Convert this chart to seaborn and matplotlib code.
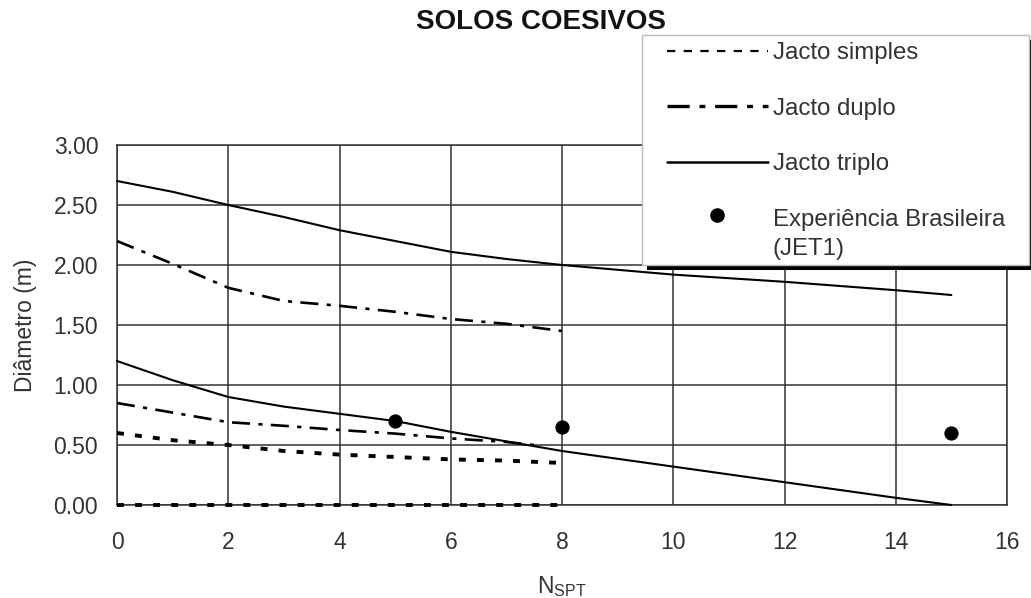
import numpy as np
import pandas as pd
import matplotlib
matplotlib.use("Agg")
import matplotlib.pyplot as plt
import matplotlib.patheffects as pe
from matplotlib.lines import Line2D
from matplotlib.patches import Rectangle
from matplotlib.legend_handler import HandlerLine2D
import seaborn as sns

# ---------------- data ----------------
triplo_sup_x = [0, 1, 2, 3, 4, 5, 6, 7, 8, 10, 12, 14, 15]
triplo_sup_y = [2.70, 2.61, 2.50, 2.40, 2.29, 2.20, 2.11, 2.05, 2.00, 1.92, 1.86, 1.79, 1.75]
triplo_inf_x = [0, 1, 2, 3, 4, 5, 6, 7, 8, 10, 12, 14, 15]
triplo_inf_y = [1.20, 1.04, 0.90, 0.82, 0.76, 0.70, 0.61, 0.53, 0.45, 0.32, 0.19, 0.06, 0.00]
duplo_sup_x = [0, 1, 2, 3, 4, 5, 6, 7, 8]
duplo_sup_y = [2.20, 2.01, 1.81, 1.70, 1.66, 1.61, 1.55, 1.51, 1.45]
duplo_inf_x = [0, 1, 2, 3, 4, 5, 6, 7, 7.5]
duplo_inf_y = [0.85, 0.77, 0.69, 0.66, 0.625, 0.595, 0.555, 0.525, 0.50]
simples_sup_x = [0, 1, 2, 3, 4, 5, 6, 7, 8]
simples_sup_y = [0.60, 0.54, 0.50, 0.45, 0.42, 0.40, 0.38, 0.37, 0.35]
simples_inf_x = [0, 8]
simples_inf_y = [0.00, 0.00]
jet1_x = [5, 8, 15]
jet1_y = [0.70, 0.65, 0.60]

x_ticks = [0, 2, 4, 6, 8, 10, 12, 14, 16]
y_ticks = [0.0, 0.5, 1.0, 1.5, 2.0, 2.5, 3.0]
legend_labels = ["Jacto simples", "Jacto duplo", "Jacto triplo",
                 "Experiência Brasileira\n(JET1)"]

# ---------------- style ----------------
sns.set_style("white")
plt.rcParams['font.family'] = ['Liberation Sans', 'DejaVu Sans']
plt.rcParams['lines.scale_dashes'] = False
plt.rcParams['mathtext.fontset'] = 'custom'
plt.rcParams['mathtext.rm'] = 'Liberation Sans'

W, H = 1031, 598
fig = plt.figure(figsize=(W / 100, H / 100), dpi=100)
ax = fig.add_axes([117 / W, 1 - 505 / H, (1007 - 117) / W, (505 - 145) / H])

simples_ls = (0, (5, 8))
duplo_ls = (0, (13, 6, 3, 6))

for xs, ys in [(simples_sup_x, simples_sup_y), (simples_inf_x, simples_inf_y)]:
    sns.lineplot(x=xs, y=ys, ax=ax, color='black', lw=2.8, linestyle=simples_ls,
                 estimator=None, errorbar=None, zorder=3, clip_on=False)
for xs, ys in [(duplo_sup_x, duplo_sup_y), (duplo_inf_x, duplo_inf_y)]:
    sns.lineplot(x=xs, y=ys, ax=ax, color='black', lw=1.9, linestyle=duplo_ls,
                 estimator=None, errorbar=None, zorder=3, clip_on=False)
for xs, ys in [(triplo_sup_x, triplo_sup_y), (triplo_inf_x, triplo_inf_y)]:
    sns.lineplot(x=xs, y=ys, ax=ax, color='black', lw=1.5, linestyle='-',
                 estimator=None, errorbar=None, zorder=3, clip_on=False)
sns.scatterplot(x=jet1_x, y=jet1_y, ax=ax, color='black', s=90, edgecolor='black',
                zorder=4)

ax.set_xlim(0, 16)
ax.set_ylim(0, 3)
ax.set_xticks(x_ticks)
ax.set_yticks(y_ticks)
ax.set_yticklabels([f"{v:.2f}" for v in y_ticks])
ax.set_axisbelow(True)
ax.grid(True, color='#333333', lw=1.1)
for s in ax.spines.values():
    s.set_color('#333333')
    s.set_linewidth(1.1)
    s.set_zorder(1)
ax.tick_params(axis='y', direction='out', length=6.5, width=1.1, color='#333333',
               labelsize=16.5, labelcolor='#333333', pad=7)
ax.tick_params(axis='x', direction='out', length=6, width=1.1, color='#333333',
               labelsize=16.5, labelcolor='#333333', pad=13)
ax.set_xlabel(r"N$_\mathregular{SPT}$", fontsize=16.5, color='#333333', labelpad=14)
ax.set_ylabel("Diâmetro (m)", fontsize=16.5, color='#333333', labelpad=12)

fig.text(541 / W, 1 - 22 / H, "SOLOS COESIVOS", ha='center', va='center',
         fontsize=20, fontweight='bold', color='#111111')

# legend frame with shadow
frame = Rectangle((642 / W, 1 - 265 / H), (1029 - 642) / W, (265 - 35) / H,
                  transform=fig.transFigure, facecolor='white', edgecolor='#bbbbbb',
                  lw=1.0, zorder=10)
frame.set_path_effects([pe.SimplePatchShadow(offset=(3.6, -3.6), shadow_rgbFace='black',
                                             alpha=1.0, rho=1.0), pe.Normal()])
fig.add_artist(frame)


class UpHandler(HandlerLine2D):
    def create_artists(self, legend, orig_handle, xdescent, ydescent, width, height,
                       fontsize, trans):
        shift = 0.8 * fontsize
        return super().create_artists(legend, orig_handle, xdescent, ydescent - 2 * shift,
                                      width, height, fontsize, trans)


h1 = Line2D([], [], color='black', lw=1.6, linestyle=(0, (6, 6)))
h2 = Line2D([], [], color='black', lw=2.4, linestyle=(0, (16, 7, 4.3, 7)))
h3 = Line2D([], [], color='black', lw=1.8, linestyle='-')
h4 = Line2D([], [], color='black', lw=0, marker='o', markersize=9.5)
leg = fig.legend([h1, h2, h3, h4], legend_labels, loc='upper left',
                 bbox_to_anchor=(667 / W, 1 - 42 / H), bbox_transform=fig.transFigure,
                 frameon=False, fontsize=17.3, handlelength=4.2, handletextpad=0.2,
                 labelspacing=1.4, borderpad=0, borderaxespad=0,
                 handler_map={h4: UpHandler()})
leg.set_zorder(11)
for t in leg.get_texts():
    t.set_color('#333333')
    t.set_linespacing(1.4)

fig.savefig("out.png", dpi=100)
